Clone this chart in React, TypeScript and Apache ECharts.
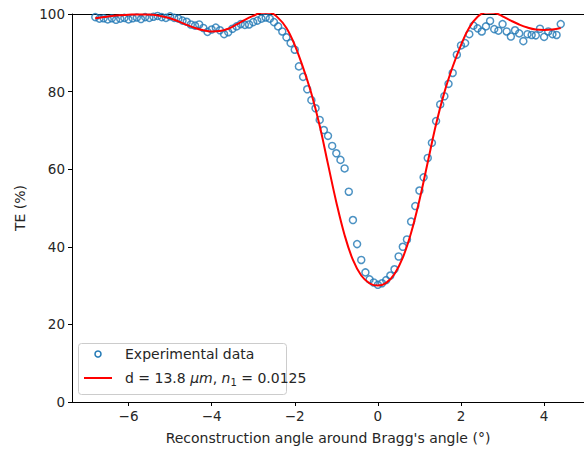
import React, { useEffect, useRef } from "react";
import * as echarts from "echarts";

const expX = [
  -6.8, -6.7, -6.6, -6.5, -6.4, -6.3, -6.2, -6.1, -6.0, -5.9,
  -5.8, -5.7, -5.6, -5.5, -5.4, -5.3, -5.2, -5.1, -5.0, -4.9,
  -4.8, -4.7, -4.6, -4.5, -4.4, -4.3, -4.2, -4.1, -4.0, -3.9,
  -3.8, -3.7, -3.6, -3.5, -3.4, -3.3, -3.2, -3.1, -3.0, -2.9,
  -2.8, -2.7, -2.6, -2.5, -2.4, -2.3, -2.2, -2.1, -2.0, -1.9,
  -1.8, -1.7, -1.6, -1.5, -1.4, -1.3, -1.2, -1.1, -1.0, -0.9,
  -0.8, -0.7, -0.6, -0.5, -0.4, -0.3, -0.2, -0.1, 0.0, 0.1,
  0.2, 0.3, 0.4, 0.5, 0.6, 0.7, 0.8, 0.9, 1.0, 1.1,
  1.2, 1.3, 1.4, 1.5, 1.6, 1.7, 1.8, 1.9, 2.0, 2.1,
  2.2, 2.3, 2.4, 2.5, 2.6, 2.7, 2.8, 2.9, 3.0, 3.1,
  3.2, 3.3, 3.4, 3.5, 3.6, 3.7, 3.8, 3.9, 4.0, 4.1,
  4.2, 4.3, 4.4,
];
const expY = [
  99.2, 98.8, 98.9, 98.6, 98.9, 98.5, 98.8, 99.0, 98.6, 98.9,
  99.1, 98.7, 99.2, 99.0, 99.3, 99.5, 99.2, 99.0, 99.4, 99.0,
  98.8, 98.3, 98.0, 97.3, 97.0, 97.3, 96.4, 95.4, 96.0, 96.5,
  95.8, 94.8, 95.3, 96.2, 96.8, 97.4, 97.2, 97.3, 97.9, 98.3,
  98.8, 99.1, 98.8, 97.9, 96.8, 95.5, 94.0, 92.5, 90.8, 86.5,
  83.8, 80.6, 77.8, 75.7, 72.7, 70.1, 68.6, 66.0, 64.1, 62.4,
  60.2, 54.2, 46.9, 40.7, 36.6, 33.4, 31.6, 30.8, 30.2, 30.6,
  31.4, 32.6, 34.2, 37.5, 40.0, 41.9, 46.5, 50.5, 54.5, 57.9,
  62.9, 66.8, 72.4, 76.7, 78.8, 82.0, 84.8, 89.5, 91.9, 92.5,
  94.8, 97.0, 96.3, 95.5, 96.8, 98.2, 96.1, 95.7, 97.4, 95.5,
  94.2, 95.8, 95.0, 93.0, 94.8, 94.6, 94.5, 96.2, 94.1, 95.5,
  94.8, 94.6, 97.4,
];

const fitX = [
  -6.8, -6.6, -6.4, -6.2, -6.0, -5.8, -5.6, -5.4, -5.2, -5.0,
  -4.8, -4.6, -4.4, -4.2, -4.0, -3.8, -3.6, -3.4, -3.2, -3.0,
  -2.8, -2.6, -2.4, -2.2, -2.0, -1.8, -1.6, -1.4, -1.2, -1.0,
  -0.8, -0.6, -0.4, -0.2, 0.0, 0.2, 0.4, 0.6, 0.8, 1.0,
  1.2, 1.4, 1.6, 1.8, 2.0, 2.2, 2.4, 2.6, 2.8, 3.0,
  3.2, 3.4, 3.6, 3.8, 4.0, 4.2, 4.4,
];
const fitY = [
  98.9, 99.2, 99.5, 99.7, 99.8, 99.9, 99.9, 99.8, 99.4, 98.9,
  98.1, 97.2, 96.4, 95.8, 95.5, 95.6, 96.2, 97.3, 98.5, 99.5,
  100.3, 100.3, 99.0, 96.4, 92.0, 86.2, 79.5, 71.2, 61.3, 51.5,
  43.0, 36.6, 32.6, 30.6, 30.0, 30.7, 33.0, 37.2, 43.6, 52.0,
  61.8, 71.6, 79.8, 86.4, 92.0, 96.5, 99.3, 100.4, 100.3, 99.4,
  98.3, 97.3, 96.5, 96.0, 95.9, 96.0, 96.4,
];

const xTicks = [-6, -4, -2, 0, 2, 4];

const FONT = "DejaVu Sans";
const TXT = "#262626";
const FS = 14;

export default function App() {
  const ref = useRef<HTMLDivElement>(null);
  useEffect(() => {
    if (!ref.current) return;
    const chart = echarts.init(ref.current, null, { renderer: "svg" });
    const fmt = (v: number) => String(v).replace("-", "\u2212");
    chart.setOption({
      animation: false,
      textStyle: { fontFamily: FONT },
      grid: { left: 72, top: 14, width: 520, height: 388 },
      xAxis: [
        {
          type: "value",
          min: -7.36,
          max: 4.96,
          name: "Reconstruction angle around Bragg's angle (\u00b0)",
          nameLocation: "middle",
          nameGap: 29,
          nameTextStyle: { fontFamily: FONT, fontSize: FS, color: TXT },
          splitLine: { show: false },
          axisLine: { onZero: false, lineStyle: { color: "#000", width: 1 } },
          axisTick: { show: true, inside: false, length: 4, lineStyle: { color: "#000" }, customValues: xTicks },
          axisLabel: {
            customValues: xTicks,
            formatter: fmt,
            fontFamily: FONT,
            fontSize: FS - 0.5,
            color: TXT,
            margin: 7,
          },
        },
        {
          type: "value",
          position: "top",
          min: -7.36,
          max: 4.96,
          splitLine: { show: false },
          axisLine: { show: true, onZero: false, lineStyle: { color: "#000", width: 1 } },
          axisTick: { show: false },
          axisLabel: { show: false },
        },
      ],
      yAxis: {
        type: "value",
        min: 0,
        max: 100,
        interval: 20,
        name: "TE (%)",
        nameLocation: "middle",
        nameGap: 45,
        nameTextStyle: { fontFamily: FONT, fontSize: FS, color: TXT },
        splitLine: { show: false },
        axisLine: { show: true, onZero: false, lineStyle: { color: "#000", width: 1 } },
        axisTick: { show: true, inside: false, length: 4, lineStyle: { color: "#000" } },
        axisLabel: { fontFamily: FONT, fontSize: FS - 0.5, color: TXT, margin: 7 },
      },
      series: [
        {
          name: "Experimental data",
          type: "scatter",
          data: expX.map((x, i) => [x, expY[i]]),
          symbol: "circle",
          symbolSize: 7,
          itemStyle: { color: "rgba(0,0,0,0)", borderColor: "#1f77b4", borderWidth: 1.5 },
          z: 2,
        },
        {
          name: "fit",
          type: "line",
          data: fitX.map((x, i) => [x, fitY[i]]),
          smooth: 0.4,
          showSymbol: false,
          lineStyle: { color: "#ff0000", width: 2 },
          z: 3,
        },
      ],
      graphic: [
        {
          type: "rect",
          shape: { x: 78.5, y: 343.5, width: 208, height: 51, r: 3 },
          style: { fill: "rgba(255,255,255,0.8)", stroke: "#cccccc", lineWidth: 1 },
          z: 10,
        },
        {
          type: "circle",
          shape: { cx: 98, cy: 354, r: 3 },
          style: { fill: "none", stroke: "#1f77b4", lineWidth: 1.5 },
          z: 11,
        },
        {
          type: "line",
          shape: { x1: 84, y1: 378, x2: 112, y2: 378 },
          style: { stroke: "#ff0000", lineWidth: 2 },
          z: 11,
        },
        {
          type: "text",
          x: 125,
          y: 354,
          style: {
            text: "Experimental data",
            fontFamily: FONT,
            fontSize: FS,
            fill: TXT,
            verticalAlign: "middle",
          },
          z: 11,
        },
        {
          type: "text",
          x: 125,
          y: 378,
          style: {
            text: "{n|d = 13.8 }{i|\u03bcm}{n|, }{i|n}{s|1}{n| = 0.0125}",
            verticalAlign: "middle",
            rich: {
              n: { fontFamily: FONT, fontSize: FS, fill: TXT, color: TXT, lineHeight: 18 },
              i: { fontFamily: FONT, fontSize: FS, fontStyle: "italic", fill: TXT, color: TXT, lineHeight: 18 },
              s: { fontFamily: FONT, fontSize: 10, fill: TXT, color: TXT, lineHeight: 18, verticalAlign: "bottom", padding: [6, 0, 0, 0] },
            },
          },
          z: 11,
        },
      ],
    });
    return () => chart.dispose();
  }, []);
  return <div ref={ref} style={{ width: 584, height: 452, position: "absolute", left: 0, top: 0 }} />;
}
